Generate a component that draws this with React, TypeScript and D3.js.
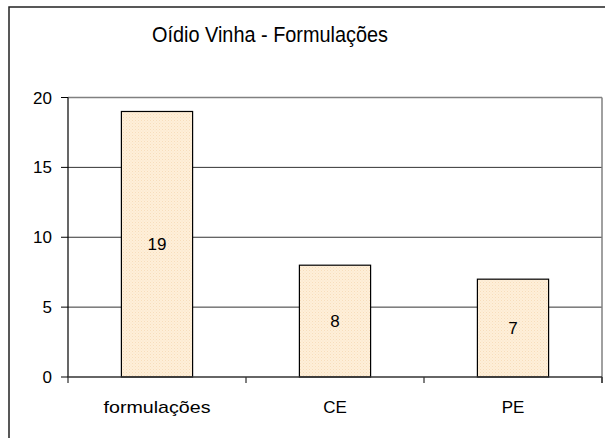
import React from "react";
import * as d3 from "d3";

const categories = ["formulações", "CE", "PE"];
const values = [19, 8, 7];
const yTicks = [0, 5, 10, 15, 20];
const title = "Oídio Vinha - Formulações";

export default function App() {
  const W = 605, H = 438;
  const left = 68, right = 602, top = 97.5, bottom = 377;
  const x = d3.scaleBand<string>().domain(categories).range([left, right]).paddingInner(0).paddingOuter(0);
  const y = d3.scaleLinear().domain([0, 20]).range([bottom, top]);
  const bw = x.bandwidth() * 0.4;
  const font = "'Liberation Sans', Arial, sans-serif";
  const boundaries = categories.map((c) => x(c)!).concat([right]);
  return (
    <svg width={W} height={H} style={{ position: "absolute", left: 0, top: 0 }}>
      <defs>
        <pattern id="dots" width="3" height="3" patternUnits="userSpaceOnUse">
          <rect width="3" height="3" fill="#FEEFD9" />
          <rect x="0" y="0" width="1" height="1" fill="#F7DDBB" />
          <rect x="1.5" y="1.5" width="1" height="1" fill="#FBE4C6" />
        </pattern>
      </defs>
      <rect x={0} y={0} width={W} height={H} fill="#fff" />
      <rect x={9} y={7} width={W + 10} height={H + 10} fill="none" stroke="#222" strokeWidth={1.5} />
      <text x={270} y={42} textAnchor="middle" fontFamily={font} fontSize={22} fill="#000" textLength={236} lengthAdjust="spacingAndGlyphs">{title}</text>
      {yTicks.map((t) => (
        <g key={t}>
          {t > 0 && t < 20 && <line x1={left} x2={right} y1={y(t)} y2={y(t)} stroke="#333" strokeWidth={1} />}
          <line x1={left - 7} x2={left} y1={y(t)} y2={y(t)} stroke="#000" strokeWidth={1} />
          <text x={52} y={y(t) + 6} textAnchor="end" fontFamily={font} fontSize={17} fill="#000">{t}</text>
        </g>
      ))}
      <line x1={left} x2={right} y1={y(20)} y2={y(20)} stroke="#808080" strokeWidth={1.5} />
      <line x1={right} x2={right} y1={y(20)} y2={bottom + 6} stroke="#808080" strokeWidth={1.5} />
      {categories.map((c, i) => {
        const cx = x(c)! + x.bandwidth() / 2;
        const y0 = y(values[i]);
        return (
          <g key={c}>
            <rect x={cx - bw / 2} y={y0} width={bw} height={bottom - y0} fill="url(#dots)" stroke="#000" strokeWidth={1.2} />
            <text x={cx} y={(y0 + bottom) / 2 + 6} textAnchor="middle" fontFamily={font} fontSize={17} fill="#000">{values[i]}</text>
            <text x={cx} y={413} textAnchor="middle" fontFamily={font} fontSize={17} fill="#000"
              {...(i === 0 ? { textLength: 107, lengthAdjust: "spacingAndGlyphs" } : {})}>{c}</text>
          </g>
        );
      })}
      {boundaries.map((b, i) => (
        <line key={i} x1={b} x2={b} y1={bottom} y2={bottom + 6} stroke="#000" strokeWidth={1} />
      ))}
      <line x1={left} x2={left} y1={top} y2={bottom} stroke="#000" strokeWidth={1.2} />
      <line x1={left} x2={right} y1={bottom} y2={bottom} stroke="#333" strokeWidth={1.5} />
    </svg>
  );
}
